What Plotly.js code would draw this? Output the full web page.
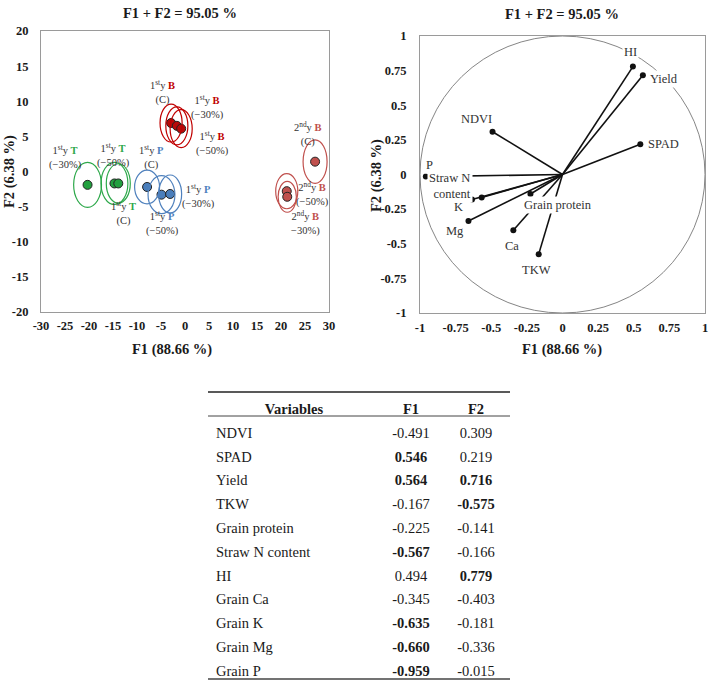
<!DOCTYPE html>
<html><head><meta charset="utf-8">
<script src="https://cdn.plot.ly/plotly-3.0.1.min.js"></script>
<style>html,body{margin:0;padding:0;background:#fff}#chart{width:709px;height:680px}</style>
</head><body><div id="chart"></div>
<script>
// ---------- Observation scores (left biplot) ----------
const obsYearSup = ['st','st','st','nd','nd','nd','st','st','st','st','st','st'];
const obsCrop    = ['B','B','B','B','B','B','T','T','T','P','P','P'];
const obsDose    = ['(C)','(−30%)','(−50%)','(C)','(−50%)','−30%)','(−30%)','(−50%)','(C)','(C)','(−50%)','(−30%)'];
const obsF1      = [-2.9, -1.7, -0.8, 27.1, 21.2, 21.3, -20.3, -14.7, -13.9, -7.9, -4.9, -3.1];
const obsF2      = [6.9, 6.5, 6.1, 1.4, -2.8, -3.6, -1.9, -1.7, -1.7, -2.2, -3.3, -3.2];
const ellHalfF1  = [2.3, 2.3, 2.3, 2.5, 2.3, 1.9, 2.9, 2.8, 2.5, 2.6, 2.8, 2.4];
const ellHalfF2  = [2.7, 2.7, 2.7, 3.1, 2.5, 2.2, 3.2, 3.0, 2.8, 2.4, 2.7, 2.7];

// ---------- Variable loadings (table + correlation circle) ----------
const variables  = ['NDVI','SPAD','Yield','TKW','Grain protein','Straw N content','HI','Grain Ca','Grain K','Grain Mg','Grain P'];
const circleLbl  = ['NDVI','SPAD','Yield','TKW','Grain protein','Straw N<br>content','HI','Ca','K','Mg','P'];
const loadF1     = [-0.491, 0.546, 0.564, -0.167, -0.225, -0.567, 0.494, -0.345, -0.635, -0.660, -0.959];
const loadF2     = [0.309, 0.219, 0.716, -0.575, -0.141, -0.166, 0.779, -0.403, -0.181, -0.336, -0.015];

const leftTicksX = [-30,-25,-20,-15,-10,-5,0,5,10,15,20,25,30];
const leftTicksY = [-20,-15,-10,-5,0,5,10,15,20];
const rightTicks = [-1,-0.75,-0.5,-0.25,0,0.25,0.5,0.75,1];

// ---------- styles ----------
const SERIF = '"Liberation Serif", "Times New Roman", serif';
const GRID = '#9a9a9a';
const groupColor = {B1:'#C00000', B2:'#C0504D', T:'#2DA84A', P:'#4F81BD'};
function gKey(i){ return obsCrop[i]==='B' ? (obsYearSup[i]==='st' ? 'B1':'B2') : obsCrop[i]; }
const markerFill = obsCrop.map((c,i)=>({B1:'#B80A0A',B2:'#C0504D',T:'#22A03F',P:'#4A7EBB'})[gKey(i)]);
const hy = v => String(v); // hyphen-minus tick text

const traces = [];
traces.push({
  type:'scatter', mode:'markers', x:obsF1, y:obsF2, xaxis:'x', yaxis:'y',
  marker:{size:9, color:markerFill, line:{color:'#222', width:1}},
  hoverinfo:'skip', showlegend:false
});

// vectors on correlation circle
const vx=[], vy=[];
loadF1.forEach((v,i)=>{ vx.push(0, v, null); vy.push(0, loadF2[i], null); });
traces.push({type:'scatter', mode:'lines', x:vx, y:vy, xaxis:'x2', yaxis:'y2',
  line:{color:'#111', width:1.6}, hoverinfo:'skip', showlegend:false});
traces.push({type:'scatter', mode:'markers', x:loadF1, y:loadF2, xaxis:'x2', yaxis:'y2',
  marker:{size:6, color:'#111'}, hoverinfo:'skip', showlegend:false});

// table
const wt = arr => arr.map(v => Math.abs(v) >= 0.5 ? 'bold' : 'normal');
traces.push({
  type:'table',
  domain:{x:[208/709, 510/709], y:[0, 1-395/680]},
  columnwidth:[172, 62, 68],
  header:{values:['Variables','F1','F2'], align:['center','center','center'],
    height:24, fill:{color:'white'}, line:{width:0, color:'white'},
    font:{family:SERIF, size:14.5, color:'#1a1a1a', weight:'bold'}},
  cells:{values:[variables, loadF1.map(v=>v.toFixed(3)), loadF2.map(v=>v.toFixed(3))], align:['left','center','center'],
    height:23.8, fill:{color:'white'}, line:{width:0, color:'white'},
    font:{family:SERIF, size:14.5, color:'#1a1a1a', weight:[variables.map(()=>'normal'), wt(loadF1), wt(loadF2)]}}
});

// ---------- shapes ----------
const shapes = [];
obsF1.forEach((x,i)=>{
  shapes.push({type:'circle', xref:'x', yref:'y', layer:'above',
    x0:x-ellHalfF1[i], x1:x+ellHalfF1[i], y0:obsF2[i]-ellHalfF2[i], y1:obsF2[i]+ellHalfF2[i],
    line:{color:groupColor[gKey(i)], width:1.2}});
});
shapes.push({type:'circle', xref:'x2', yref:'y2', layer:'below', x0:-1, x1:1, y0:-1, y1:1, line:{color:'#777', width:0.9}});
const tx0 = 208/709, tx1 = 510/709;
shapes.push({type:'line', xref:'paper', yref:'paper', x0:tx0, x1:tx1, y0:1-392/680, y1:1-392/680, line:{color:'#222', width:1.6}});
shapes.push({type:'line', xref:'paper', yref:'paper', x0:tx0, x1:tx1, y0:1-416/680, y1:1-416/680, line:{color:'#444', width:1}});
shapes.push({type:'line', xref:'paper', yref:'paper', x0:tx0, x1:tx1, y0:1-679/680, y1:1-679/680, line:{color:'#444', width:1.6}});

// ---------- annotations ----------
const ann = [];
const obsLabelPos = [[-4.6,11.3],[4.6,9.25],[5.8,4.0],[25.6,5.3],[26.6,-3.2],[25.0,-7.3],[-25.0,2.1],[-15.0,2.35],[-12.9,-5.9],[-6.9,2.0],[-4.6,-7.4],[2.8,-3.5]];
obsF1.forEach((x,i)=>{
  const col = groupColor[gKey(i)];
  ann.push({xref:'x', yref:'y', x:obsLabelPos[i][0], y:obsLabelPos[i][1], showarrow:false,
    text: (obsYearSup[i]==='st'?'1':'2')+'<sup>'+obsYearSup[i]+'</sup>y <b><span style="color:'+col+'">'+obsCrop[i]+'</span></b><br>'+obsDose[i],
    font:{family:SERIF, size:10.5, color:'#333'}, align:'center'});
});
const varLabelPos = [[-0.602,0.40,'center'],[0.707,0.218,'center'],[0.714,0.687,'center'],[-0.181,-0.69,'center'],[-0.03,-0.22,'center'],
  [-0.625,-0.085,'right'],[0.474,0.887,'center'],[-0.352,-0.514,'center'],[-0.731,-0.232,'center'],[-0.754,-0.406,'center'],[-0.93,0.069,'center']];
circleLbl.forEach((t,i)=>{
  ann.push({xref:'x2', yref:'y2', x:varLabelPos[i][0], y:varLabelPos[i][1], xanchor:varLabelPos[i][2], showarrow:false,
    text:t, align:varLabelPos[i][2]==='right'?'right':'center', bgcolor:'white', borderpad:1,
    font:{family:SERIF, size:12.5, color:'#333'}});
});
const titleFont = {family:SERIF, size:14.5, color:'#1a1a1a', weight:'bold'};
const pa = (x, y, text, extra) => Object.assign({xref:'paper', yref:'paper', x:x/709, y:1-y/680, xanchor:'center', yanchor:'middle', text:text, showarrow:false, font:titleFont}, extra||{});
ann.push(pa(180, 13, 'F1 + F2 = 95.05 %'));
ann.push(pa(562, 14, 'F1 + F2 = 95.05 %'));
ann.push(pa(172, 350, 'F1 (88.66 %)'));
ann.push(pa(562, 350, 'F1 (88.66 %)'));
ann.push(pa(9, 172, 'F2 (6.38 %)', {textangle:-90}));
ann.push(pa(377, 175, 'F2 (6.38 %)', {textangle:-90}));

// ---------- axes ----------
const tickFont = {family:SERIF, size:12.5, color:'#1a1a1a', weight:'bold'};
const LX = [41/709, 329/709], LY = [1-312/680, 1-31/680];
const RX = [420/709, 705/709], RY = [1-313/680, 1-36/680];
const frame = {showline:true, mirror:true, linecolor:GRID, linewidth:1, showgrid:false, zeroline:false, ticks:'', fixedrange:true};
const zl = {showline:true, linecolor:GRID, linewidth:1, ticklen:4, tickcolor:GRID, showticklabels:false, showgrid:false, zeroline:false, fixedrange:true};
const layout = {
  width:709, height:680, margin:{l:0,r:0,t:0,b:0}, paper_bgcolor:'white', plot_bgcolor:'white',
  showlegend:false, shapes:shapes, annotations:ann, font:{family:SERIF},
  xaxis:Object.assign({}, frame, {domain:LX, anchor:'y', range:[-30,30], tickvals:leftTicksX, ticktext:leftTicksX.map(hy), tickfont:tickFont, ticklabelstandoff:2}),
  yaxis:Object.assign({}, frame, {domain:LY, anchor:'x', range:[-20,20], tickvals:leftTicksY, ticktext:leftTicksY.map(hy), tickfont:tickFont, ticklabelstandoff:9}),
  xaxis3:Object.assign({}, zl, {overlaying:'x', anchor:'free', position:(LY[0]+LY[1])/2, range:[-30,30], tickvals:leftTicksX.slice(1,-1), ticks:'inside'}),
  yaxis3:Object.assign({}, zl, {overlaying:'y', anchor:'free', position:(LX[0]+LX[1])/2, range:[-20,20], tickvals:leftTicksY.slice(1,-1), ticks:'outside'}),
  xaxis2:Object.assign({}, frame, {domain:RX, anchor:'y2', range:[-1,1], tickvals:rightTicks, ticktext:rightTicks.map(hy), tickfont:tickFont, ticklabelstandoff:3}),
  yaxis2:Object.assign({}, frame, {domain:RY, anchor:'x2', range:[-1,1], tickvals:rightTicks, ticktext:rightTicks.map(hy), tickfont:tickFont, ticklabelstandoff:10}),
  xaxis4:Object.assign({}, zl, {overlaying:'x2', anchor:'free', position:(RY[0]+RY[1])/2, range:[-1,1], tickvals:rightTicks.slice(1,-1), ticks:'inside'}),
  yaxis4:Object.assign({}, zl, {overlaying:'y2', anchor:'free', position:(RX[0]+RX[1])/2, range:[-1,1], tickvals:rightTicks.slice(1,-1), ticks:'inside'})
};
Plotly.newPlot('chart', traces, layout, {staticPlot:true, displayModeBar:false});
</script></body></html>
